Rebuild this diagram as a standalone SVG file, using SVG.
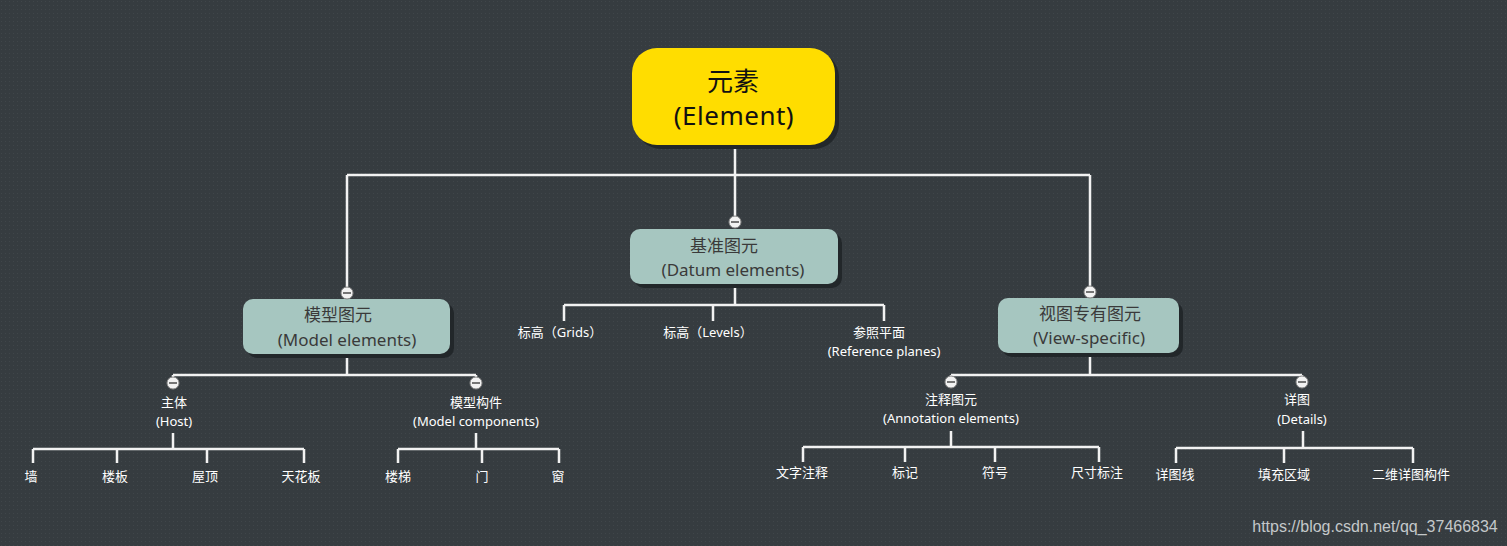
<svg xmlns="http://www.w3.org/2000/svg" width="1507" height="546" viewBox="0 0 1507 546">
<defs>
<pattern id="dots" width="4" height="4" patternUnits="userSpaceOnUse">
<rect width="4" height="4" fill="#363c40"/>
<rect x="1" y="1" width="1" height="1" fill="#40464a"/>
</pattern>
<g id="tog">
<circle r="6" fill="#f2f2f2" stroke="#8a8a8a" stroke-width="1"/>
<line x1="-4" y1="0" x2="4" y2="0" stroke="#555" stroke-width="1.6"/>
</g>
</defs>
<style>
.cn{font-family:"Noto Sans","Noto Sans CJK SC",sans-serif;}
.root{font-size:26px;fill:#111;text-anchor:middle;}
.mid{font-size:17px;fill:#3a3a3a;text-anchor:middle;}
.leaf{font-size:13px;fill:#ffffff;text-anchor:middle;}
.ln{stroke:#f2f2f2;stroke-width:2.5;fill:none;}
.box{fill:#a6c6c0;}
.sh{fill:#22272a;}
</style>
<rect width="1507" height="546" fill="url(#dots)"/>

<g id="connectors">
<path class="ln" d="M735 145 V175 M347 175 H1090 M347 175 V287 M735 175 V216 M1090 175 V286"/>
<path class="ln" d="M735 284 V305 M564 305 H884 M564 305 V321 M713 305 V321 M884 305 V321"/>
<path class="ln" d="M347 354 V375 M173 375 H476 M173 375 V377 M476 375 V377"/>
<path class="ln" d="M173 433 V449 M33 449 H304 M33 449 V463 M117 449 V463 M207 449 V463 M304 449 V463"/>
<path class="ln" d="M476 433 V449 M398 449 H559 M398 449 V463 M482 449 V463 M559 449 V463"/>
<path class="ln" d="M1090 353 V375 M951 375 H1302 M951 375 V377 M1302 375 V377"/>
<path class="ln" d="M951 431 V447 M803 447 H1099 M803 447 V462 M905 447 V462 M995 447 V462 M1099 447 V462"/>
<path class="ln" d="M1303 431 V448 M1176 448 H1413 M1176 448 V463 M1284 448 V463 M1413 448 V463"/>
</g>

<g id="root">
<rect class="sh" x="636" y="52" width="203" height="97" rx="25"/>
<rect x="632" y="48" width="203" height="97" rx="25" fill="#ffdd00"/>
<text class="cn root" x="733" y="91">元素</text>
<text class="cn root" x="734" y="125" letter-spacing="0.5">(Element)</text>
</g>

<g id="datum">
<rect class="sh" x="634" y="233" width="208" height="55" rx="10"/>
<rect class="box" x="630" y="229" width="208" height="55" rx="10"/>
<text class="cn mid" x="724" y="252">基准图元</text>
<text class="cn mid" x="733" y="276">(Datum elements)</text>
</g>

<g id="model">
<rect class="sh" x="247" y="303" width="207" height="55" rx="10"/>
<rect class="box" x="243" y="299" width="207" height="55" rx="10"/>
<text class="cn mid" x="338" y="321">模型图元</text>
<text class="cn mid" x="347" y="346">(Model elements)</text>
</g>

<g id="view">
<rect class="sh" x="1002" y="302" width="181" height="55" rx="10"/>
<rect class="box" x="998" y="298" width="181" height="55" rx="10"/>
<text class="cn mid" x="1090" y="320">视图专有图元</text>
<text class="cn mid" x="1089" y="344">(View-specific)</text>
</g>

<g id="toggles">
<use href="#tog" x="347" y="293"/>
<use href="#tog" x="735" y="222"/>
<use href="#tog" x="1090" y="292"/>
<use href="#tog" x="173" y="383"/>
<use href="#tog" x="476" y="383"/>
<use href="#tog" x="951" y="382"/>
<use href="#tog" x="1302" y="382"/>
</g>

<g id="grids"><text class="cn leaf" x="560" y="337">标高（Grids）</text></g>
<g id="levels"><text class="cn leaf" x="708" y="337">标高（Levels）</text></g>
<g id="refplanes"><text class="cn leaf" x="879" y="337">参照平面</text><text class="cn leaf" x="884" y="356">(Reference planes)</text></g>

<g id="host"><text class="cn leaf" x="174" y="407">主体</text><text class="cn leaf" x="174" y="426">(Host)</text></g>
<g id="components"><text class="cn leaf" x="476" y="407">模型构件</text><text class="cn leaf" x="476" y="426">(Model components)</text></g>
<g id="wall"><text class="cn leaf" x="31" y="481">墙</text></g>
<g id="floor"><text class="cn leaf" x="115" y="481">楼板</text></g>
<g id="roof"><text class="cn leaf" x="205" y="481">屋顶</text></g>
<g id="ceiling"><text class="cn leaf" x="301" y="481">天花板</text></g>
<g id="stairs"><text class="cn leaf" x="398" y="481">楼梯</text></g>
<g id="door"><text class="cn leaf" x="482" y="481">门</text></g>
<g id="window"><text class="cn leaf" x="558" y="481">窗</text></g>

<g id="annotation"><text class="cn leaf" x="951" y="404">注释图元</text><text class="cn leaf" x="951" y="423">(Annotation elements)</text></g>
<g id="details"><text class="cn leaf" x="1297" y="404">详图</text><text class="cn leaf" x="1302" y="424">(Details)</text></g>
<g id="text-note"><text class="cn leaf" x="802" y="477">文字注释</text></g>
<g id="tag"><text class="cn leaf" x="905" y="477">标记</text></g>
<g id="symbol"><text class="cn leaf" x="995" y="477">符号</text></g>
<g id="dimension"><text class="cn leaf" x="1097" y="477">尺寸标注</text></g>
<g id="detail-line"><text class="cn leaf" x="1175" y="479">详图线</text></g>
<g id="filled-region"><text class="cn leaf" x="1284" y="479">填充区域</text></g>
<g id="detail-component"><text class="cn leaf" x="1411" y="479">二维详图构件</text></g>

<text x="1375" y="532" font-family="Liberation Sans, sans-serif" font-size="16" fill="#c4c8ca" text-anchor="middle">https://blog.csdn.net/qq_37466834</text>
</svg>
